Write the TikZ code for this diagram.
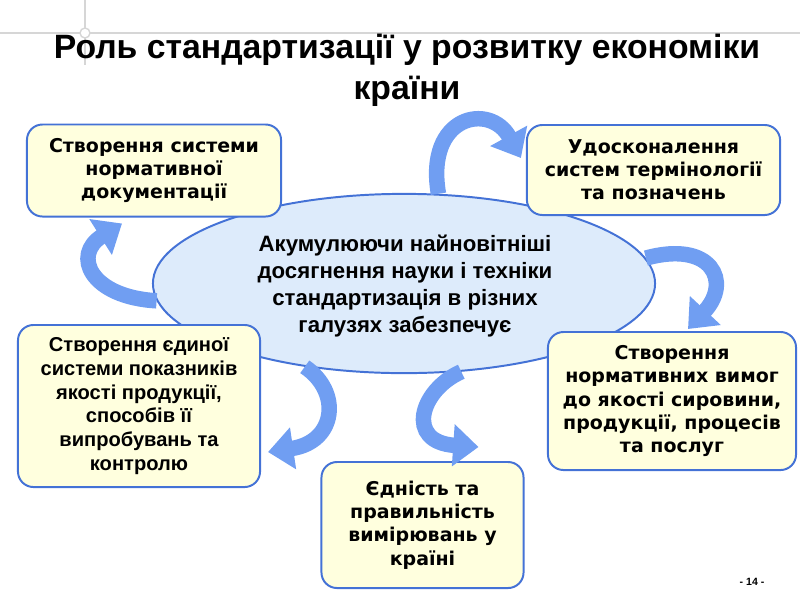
\documentclass[tikz,border=0pt]{standalone}
\usepackage{fontspec}
\setmainfont{Liberation Sans}
\newfontfamily\roundfont{DejaVu Sans}
\usetikzlibrary{positioning,arrows.meta,shapes.geometric}
\definecolor{rim}{RGB}{68,114,214}
\definecolor{cream}{RGB}{255,255,222}
\definecolor{sky}{RGB}{221,235,251}
\definecolor{flow}{RGB}{112,158,242}
\definecolor{guide}{RGB}{214,214,214}

\begin{document}
\begin{tikzpicture}[x=0.025cm, y=-0.025cm,
    goal/.style={draw=rim, line width=1.4pt, fill=cream, rounded corners=11pt,
      align=center, inner sep=0pt},
    gfont/.style={font=\roundfont\bfseries\fontsize{13.5}{16.5}\selectfont},
    afont/.style={font=\bfseries\fontsize{14.3}{16.8}\selectfont},
    swirl/.style={flow, line width=11pt, -{Triangle[width=29pt,length=18pt]}}]
  \useasboundingbox (0,0) rectangle (800,600);
  % faint guide cross in the corner
  \draw[guide, line width=1pt] (0,33) -- (800,33);
  \draw[guide, line width=1pt] (85,0) -- (85,65);
  \draw[guide, line width=1pt, fill=white] (85,33) circle (5);
  % title
  \node[font=\bfseries\fontsize{24}{29}\selectfont, align=center] (title) at (407,70)
    {Роль стандартизації у розвитку економіки\\країни};
  % centre
  \node[ellipse, draw=rim, line width=1.4pt, fill=sky, inner sep=0pt,
    minimum width=12.55cm, minimum height=4.48cm] (core) at (404,283.5) {};
  \node[font=\bfseries\fontsize{15.8}{19}\selectfont, align=center] (coretext) at (405,286)
    {Акумулюючи найновітніші\\досягнення науки і техніки\\стандартизація в різних\\галузях забезпечує};
  % the five tasks
  \node[goal, gfont, minimum width=6.35cm, minimum height=2.3cm] (docs) at (154,170.5)
    {Створення системи\\нормативної\\документації};
  \node[goal, gfont, minimum width=6.33cm, minimum height=2.25cm] (terms) at (653.5,170)
    {Удосконалення\\систем термінології\\та позначень};
  \node[goal, afont, minimum width=6.05cm, minimum height=4.05cm] (index) at (139,406)
    {Створення єдиної\\системи показників\\якості продукції,\\способів її\\випробувань та\\контролю};
  \node[goal, gfont, minimum width=6.2cm, minimum height=3.45cm] (norms) at (672,401)
    {Створення\\нормативних вимог\\до якості сировини,\\продукції, процесів\\та послуг};
  \node[goal, gfont, minimum width=5.05cm, minimum height=3.15cm] (units) at (422.5,525)
    {Єдність та\\правильність\\вимірювань у\\країні};
  % curved arrows
  \draw[swirl] (core.184) .. controls (90,297) and (72,255) .. ([shift={(-32,6)}]docs.south);
  \draw[swirl] (core.69) .. controls (425,115) and (490,102) .. ([shift={(-5,-12)}]terms.west);
  \draw[swirl] (core.6) .. controls (712,240) and (732,282) .. ([shift={(16,-2)}]norms.north);
  \draw[swirl] (core.303) .. controls (420,390) and (405,442) .. ([shift={(56,-14)}]units.north);
  \draw[swirl] (core.220) .. controls (342,392) and (336,442) .. ([shift={(7,46)}]index.east);
  % page number
  \node[font=\bfseries\fontsize{7.5}{8}\selectfont] (page) at (752,582) {- 14 -};
\end{tikzpicture}
\end{document}
